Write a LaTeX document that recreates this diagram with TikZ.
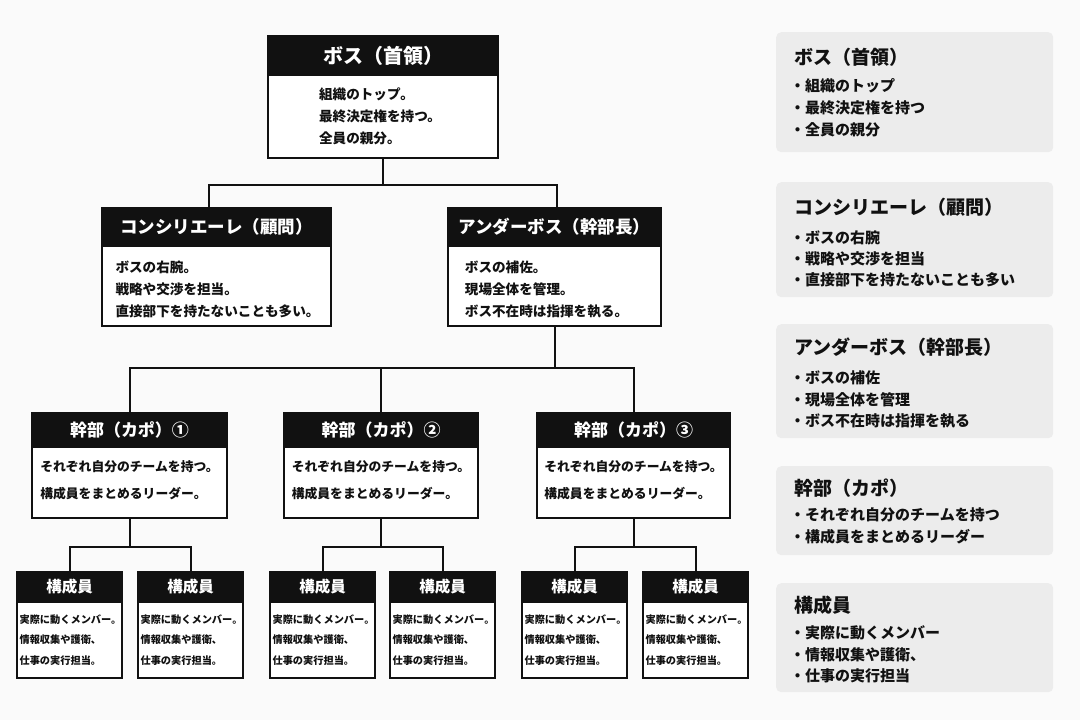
\documentclass[tikz,border=0pt]{standalone}
\usepackage{fontspec}
\setmainfont{Noto Sans CJK JP}
\usetikzlibrary{calc}
\definecolor{bgc}{HTML}{FAFAFA}
\definecolor{panelc}{HTML}{ECECEC}
\definecolor{inkc}{HTML}{111111}
\begin{document}
\begin{tikzpicture}[x=1pt,y=-1pt,
  hdr/.style={fill=inkc, draw=inkc, line width=2pt, text=white, inner sep=0pt, anchor=north west, font=\bfseries},
  bodybox/.style={fill=white, draw=inkc, line width=2pt, inner sep=0pt, anchor=north west},
  bodytxt/.style={align=left, inner sep=0pt, text=inkc, font=\bfseries},
  conn/.style={draw=inkc, line width=2pt},
  panel/.style={fill=panelc, draw=none, rounded corners=5pt, anchor=north west, inner sep=0pt, minimum width=277},
  ptitle/.style={anchor=base west, inner sep=0pt, text=inkc, font=\fontsize{19}{22}\selectfont\bfseries},
  pitem/.style={anchor=base west, inner sep=0pt, text=inkc, font=\fontsize{15}{18}\selectfont\bfseries}
]
\fill[bgc] (0,0) rectangle (1080,720);
\useasboundingbox (0,0) rectangle (1080,720);

% ---------- Boss ----------
\node[hdr, minimum width=230, minimum height=39, font=\fontsize{20}{24}\selectfont\bfseries] (bossh) at (267,35) {ボス（首領）};
\node[bodybox, minimum width=230, minimum height=83] (bossb) at (267,74) {};
\node[bodytxt, font=\fontsize{13.6}{22}\selectfont\bfseries] (bosst) at ($(bossb.center)+(-3,0)$) {組織のトップ。\\最終決定権を持つ。\\全員の親分。};

% ---------- Consigliere ----------
\node[hdr, minimum width=229, minimum height=38, font=\fontsize{17.5}{22}\selectfont\bfseries] (consh) at (101,207) {コンシリエーレ（顧問）};
\node[bodybox, minimum width=229, minimum height=80] (consb) at (101,245) {};
\node[bodytxt, font=\fontsize{13.6}{22}\selectfont\bfseries] (const) at ($(consb.center)+(1,3)$) {ボスの右腕。\\戦略や交渉を担当。\\直接部下を持たないことも多い。};

% ---------- Underboss ----------
\node[hdr, minimum width=213, minimum height=38, font=\fontsize{17.5}{22}\selectfont\bfseries] (undh) at (447,207) {アンダーボス（幹部長）};
\node[bodybox, minimum width=213, minimum height=80] (undb) at (447,245) {};
\node[bodytxt, font=\fontsize{13.6}{22}\selectfont\bfseries] (undt) at ($(undb.center)+(-8,3)$) {ボスの補佐。\\現場全体を管理。\\ボス不在時は指揮を執る。};

% ---------- Capos ----------
\foreach \n/\x/\w/\k in {1/31/195/①, 2/283/194/②, 3/536/193/③}{
  \node[hdr, minimum width=\w, minimum height=34, font=\fontsize{17}{20}\selectfont\bfseries] (capoh\n) at (\x,412) {幹部（カポ）\k};
  \node[bodybox, minimum width=\w, minimum height=71] (capob\n) at (\x,446) {};
  \node[bodytxt, font=\fontsize{12.8}{27}\selectfont\bfseries] (capot\n) at ($(capob\n.center)+(0,-2)$) {それぞれ自分のチームを持つ。\\構成員をまとめるリーダー。};
}

% ---------- Members ----------
\foreach \n/\x in {1/16, 2/137, 3/269, 4/389, 5/521, 6/642}{
  \node[hdr, minimum width=105, minimum height=30, font=\fontsize{15.5}{18}\selectfont\bfseries] (memh\n) at (\x,571) {構成員};
  \node[bodybox, minimum width=105, minimum height=76] (memb\n) at (\x,601) {};
  \node[bodytxt, font=\fontsize{10.2}{20.5}\selectfont\bfseries] (memt\n) at ($(memb\n.center)+(1,0)$) {実際に動くメンバー。\\情報収集や護衛、\\仕事の実行担当。};
}

% ---------- Connectors ----------
\coordinate (j1) at ($(bossb.south)+(0,26)$);
\draw[conn] (bossb.south) -- (j1);
\draw[conn] ($(consh.north)+(-8,0)$) |- (j1) -| ($(undh.north)+(2,0)$);

\coordinate (j2) at ($(undb.south)+(0,41)$);
\draw[conn] (undb.south) -- (j2);
\draw[conn] (capoh1.north) |- (j2) -| (capoh3.north);
\draw[conn] (j2 -| capoh2.north) -- (capoh2.north);

\foreach \c/\a/\b in {1/1/2, 2/3/4, 3/5/6}{
  \coordinate (k\c) at ($(capob\c.south)+(0,28)$);
  \draw[conn] (capob\c.south) -- (k\c);
  \draw[conn] (memh\a.north) |- (k\c) -| (memh\b.north);
}

% ---------- Right panels ----------
\node[panel, minimum height=120] (p1) at (776,32) {};
\node[ptitle] (p1t) at (794,64) {ボス（首領）};
\node[pitem] (p1a) at (790,91) {・組織のトップ};
\node[pitem] (p1b) at (790,113) {・最終決定権を持つ};
\node[pitem] (p1c) at (790,135) {・全員の親分};

\node[panel, minimum height=115] (p2) at (776,182) {};
\node[ptitle] (p2t) at (794,214) {コンシリエーレ（顧問）};
\node[pitem] (p2a) at (790,243) {・ボスの右腕};
\node[pitem] (p2b) at (790,264) {・戦略や交渉を担当};
\node[pitem] (p2c) at (790,285) {・直接部下を持たないことも多い};

\node[panel, minimum height=114] (p3) at (776,324) {};
\node[ptitle] (p3t) at (794,354) {アンダーボス（幹部長）};
\node[pitem] (p3a) at (790,383) {・ボスの補佐};
\node[pitem] (p3b) at (790,405) {・現場全体を管理};
\node[pitem] (p3c) at (790,426) {・ボス不在時は指揮を執る};

\node[panel, minimum height=89] (p4) at (776,466) {};
\node[ptitle] (p4t) at (794,495) {幹部（カポ）};
\node[pitem] (p4a) at (790,520) {・それぞれ自分のチームを持つ};
\node[pitem] (p4b) at (790,542) {・構成員をまとめるリーダー};

\node[panel, minimum height=109] (p5) at (776,583) {};
\node[ptitle] (p5t) at (794,612) {構成員};
\node[pitem] (p5a) at (790,638) {・実際に動くメンバー};
\node[pitem] (p5b) at (790,660) {・情報収集や護衛、};
\node[pitem] (p5c) at (790,681) {・仕事の実行担当};
\end{tikzpicture}
\end{document}
